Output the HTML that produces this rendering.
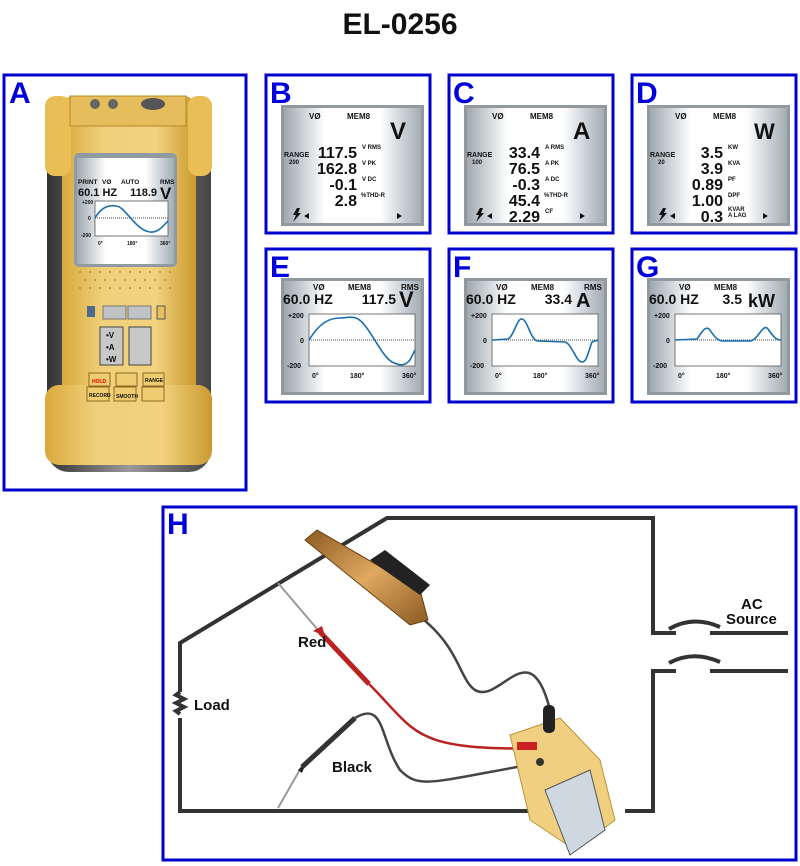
<!DOCTYPE html>
<html><head><meta charset="utf-8"><style>
html,body{margin:0;padding:0;background:#fff;}
svg{display:block;font-family:"Liberation Sans",Arial,sans-serif;}
.lab{fill:#0000dd;font-weight:bold;font-size:30px;}
.b{font-weight:bold;fill:#111;}
</style></head><body>
<svg width="800" height="866" viewBox="0 0 800 866" xmlns="http://www.w3.org/2000/svg">
<defs>
<linearGradient id="scr" x1="0" x2="1" y1="0" y2="0">
<stop offset="0" stop-color="#9fa9b0"/><stop offset="0.2" stop-color="#dfe3e6"/><stop offset="0.3" stop-color="#ffffff"/><stop offset="0.7" stop-color="#ffffff"/><stop offset="0.82" stop-color="#d9dee2"/><stop offset="1" stop-color="#a3adb4"/>
</linearGradient>
<linearGradient id="body" x1="0" x2="1"><stop offset="0" stop-color="#d9a93c"/><stop offset="0.3" stop-color="#f0cf7a"/><stop offset="0.7" stop-color="#f2d27e"/><stop offset="1" stop-color="#c99a30"/></linearGradient>
<linearGradient id="side" x1="0" x2="1"><stop offset="0" stop-color="#333"/><stop offset="0.5" stop-color="#999"/><stop offset="1" stop-color="#444"/></linearGradient>
<linearGradient id="clip" x1="0" x2="1" y1="0" y2="1"><stop offset="0" stop-color="#8a5a22"/><stop offset="0.5" stop-color="#e0a860"/><stop offset="1" stop-color="#8a5a22"/></linearGradient>
</defs>
<text x="400" y="34" text-anchor="middle" class="b" font-size="30">EL-0256</text>

<g fill="none" stroke="#0000cc" stroke-width="3">
<rect x="4" y="75" width="242" height="415"/>
<rect x="266" y="75" width="164" height="158"/>
<rect x="449" y="75" width="164" height="158"/>
<rect x="632" y="75" width="164" height="158"/>
<rect x="266" y="249" width="164" height="153"/>
<rect x="449" y="249" width="164" height="153"/>
<rect x="632" y="249" width="164" height="153"/>
<rect x="163" y="507" width="633" height="353"/>
</g>
<text x="9" y="103" class="lab">A</text>
<text x="270" y="103" class="lab">B</text>
<text x="453" y="103" class="lab">C</text>
<text x="636" y="103" class="lab">D</text>
<text x="270" y="277" class="lab">E</text>
<text x="453" y="277" class="lab">F</text>
<text x="636" y="277" class="lab">G</text>
<text x="167" y="534" class="lab">H</text>

<!-- Meter A -->
<rect x="47" y="112" width="164" height="360" rx="22" fill="url(#side)"/>
<rect x="62" y="96" width="134" height="340" rx="12" fill="url(#body)"/>
<rect x="45" y="96" width="26" height="80" rx="10" fill="#e9be55"/>
<rect x="188" y="96" width="24" height="80" rx="10" fill="#e9be55"/>
<rect x="45" y="385" width="167" height="80" rx="14" fill="url(#body)"/>
<rect x="70" y="96" width="116" height="30" fill="#e5bd5c" stroke="#b78a2a"/>
<circle cx="95" cy="104" r="5" fill="#666"/><circle cx="113" cy="104" r="5" fill="#666"/><ellipse cx="153" cy="104" rx="12" ry="6" fill="#555"/>
<rect x="74" y="153" width="103" height="114" rx="5" fill="#8f9aa2"/>
<rect x="77" y="158" width="97" height="106" fill="url(#scr)"/>
<text x="78" y="184" font-size="6.5" class="b">PRINT</text><text x="102" y="184" font-size="6.5" class="b">VØ</text><text x="121" y="184" font-size="6.5" class="b">AUTO</text><text x="160" y="184" font-size="6.5" class="b">RMS</text>
<text x="78" y="196" font-size="11" class="b">60.1 HZ</text><text x="157" y="196" font-size="11" class="b" text-anchor="end">118.9</text><text x="160" y="199" font-size="17" class="b">V</text>
<rect x="95" y="201" width="73" height="35" fill="#fff" stroke="#555" stroke-width="0.8"/>
<line x1="95" y1="218" x2="168" y2="218" stroke="#444" stroke-dasharray="1,1"/>
<path d="M95,218 C102,206 110,205 116,206 C125,206 135,230 150,232 C158,233 163,226 168,221" fill="none" stroke="#1a6fb0" stroke-width="1.6"/>
<text x="82" y="204" font-size="5" class="b">+200</text><text x="88" y="220" font-size="5" class="b">0</text><text x="81" y="237" font-size="5" class="b">-200</text>
<text x="98" y="245" font-size="5" class="b">0°</text><text x="127" y="245" font-size="5" class="b">180°</text><text x="160" y="245" font-size="5" class="b">360°</text>
<g fill="#b48a3a">
<circle cx="80" cy="272" r="1"/><circle cx="90" cy="272" r="1"/><circle cx="100" cy="272" r="1"/><circle cx="110" cy="272" r="1"/><circle cx="120" cy="272" r="1"/><circle cx="130" cy="272" r="1"/><circle cx="140" cy="272" r="1"/><circle cx="150" cy="272" r="1"/><circle cx="160" cy="272" r="1"/><circle cx="170" cy="272" r="1"/>
<circle cx="85" cy="280" r="1"/><circle cx="95" cy="280" r="1"/><circle cx="105" cy="280" r="1"/><circle cx="115" cy="280" r="1"/><circle cx="125" cy="280" r="1"/><circle cx="135" cy="280" r="1"/><circle cx="145" cy="280" r="1"/><circle cx="155" cy="280" r="1"/><circle cx="165" cy="280" r="1"/>
<circle cx="80" cy="288" r="1"/><circle cx="90" cy="288" r="1"/><circle cx="100" cy="288" r="1"/><circle cx="110" cy="288" r="1"/><circle cx="120" cy="288" r="1"/><circle cx="130" cy="288" r="1"/><circle cx="140" cy="288" r="1"/><circle cx="150" cy="288" r="1"/><circle cx="160" cy="288" r="1"/><circle cx="170" cy="288" r="1"/>
</g>
<rect x="87" y="306" width="8" height="11" fill="#4a6a90"/>
<rect x="103" y="306" width="23" height="13" fill="#bfc3c6" stroke="#777"/><rect x="128" y="306" width="23" height="13" fill="#bfc3c6" stroke="#777"/>
<rect x="157" y="306" width="8" height="13" fill="#e8c060" stroke="#555"/>
<rect x="100" y="327" width="23" height="38" fill="#c8c8c8" stroke="#444"/>
<text x="106" y="338" font-size="8" class="b">•V</text><text x="106" y="350" font-size="8" class="b">•A</text><text x="106" y="362" font-size="8" class="b">•W</text>
<rect x="129" y="327" width="22" height="38" fill="#c8c8c8" stroke="#444"/>
<rect x="89" y="373" width="21" height="13" fill="#f0cc70" stroke="#8a6a20"/><text x="92" y="383" font-size="5" fill="#d00" font-weight="bold">HOLD</text>
<rect x="116" y="373" width="21" height="13" fill="#f0cc70" stroke="#8a6a20"/>
<rect x="143" y="373" width="21" height="13" fill="#f0cc70" stroke="#8a6a20"/><text x="145" y="382" font-size="5" class="b">RANGE</text>
<rect x="87" y="387" width="22" height="14" fill="#f0cc70" stroke="#8a6a20"/><text x="89" y="397" font-size="5" class="b">RECORD</text>
<rect x="114" y="387" width="22" height="14" fill="#f0cc70" stroke="#8a6a20"/><text x="116" y="398" font-size="5" class="b">SMOOTH</text>
<rect x="142" y="387" width="22" height="14" fill="#f0cc70" stroke="#8a6a20"/>

<!-- B C D screens -->
<rect x="281" y="105" width="143" height="121" fill="#8f999f"/><rect x="284" y="108" width="137" height="115" fill="url(#scr)"/>
<rect x="464" y="105" width="143" height="121" fill="#8f999f"/><rect x="467" y="108" width="137" height="115" fill="url(#scr)"/>
<rect x="647" y="105" width="143" height="121" fill="#8f999f"/><rect x="650" y="108" width="137" height="115" fill="url(#scr)"/>
<g class="b" font-size="8">
<text x="309" y="119">VØ</text><text x="347" y="119">MEM8</text>
<text x="492" y="119">VØ</text><text x="530" y="119">MEM8</text>
<text x="675" y="119">VØ</text><text x="713" y="119">MEM8</text>
<text x="284" y="157" font-size="7">RANGE</text><text x="289" y="164" font-size="6">200</text>
<text x="467" y="157" font-size="7">RANGE</text><text x="472" y="164" font-size="6">100</text>
<text x="650" y="157" font-size="7">RANGE</text><text x="658" y="164" font-size="6">20</text>
</g>
<text x="390" y="139" font-size="24" class="b">V</text>
<text x="573" y="139" font-size="24" class="b">A</text>
<text x="754" y="139" font-size="22" class="b">W</text>
<g class="b" font-size="16" text-anchor="end">
<text x="357" y="158">117.5</text><text x="357" y="174">162.8</text><text x="357" y="190">-0.1</text><text x="357" y="206">2.8</text>
<text x="540" y="158">33.4</text><text x="540" y="174">76.5</text><text x="540" y="190">-0.3</text><text x="540" y="206">45.4</text><text x="540" y="222">2.29</text>
<text x="723" y="158">3.5</text><text x="723" y="174">3.9</text><text x="723" y="190">0.89</text><text x="723" y="206">1.00</text><text x="723" y="222">0.3</text>
</g>
<g class="b" font-size="6">
<text x="362" y="149">V  RMS</text><text x="362" y="165">V  PK</text><text x="362" y="181">V  DC</text><text x="361" y="197">%THD-R</text>
<text x="545" y="149">A  RMS</text><text x="545" y="165">A  PK</text><text x="545" y="181">A  DC</text><text x="544" y="197">%THD-R</text><text x="545" y="213">CF</text>
<text x="728" y="149">KW</text><text x="728" y="165">KVA</text><text x="728" y="181">PF</text><text x="728" y="197">DPF</text><text x="728" y="211">KVAR</text><text x="728" y="217">A LAG</text>
</g>
<g fill="#111">
<path transform="translate(292,208)" d="M5,0 L1,7 L4,7 L1,14 L9,5 L6,5 L8,0Z"/><path d="M304,216 l5,-3 v6z M397,213 l5,3 l-5,3z"/>
<path transform="translate(475,208)" d="M5,0 L1,7 L4,7 L1,14 L9,5 L6,5 L8,0Z"/><path d="M487,216 l5,-3 v6z M580,213 l5,3 l-5,3z"/>
<path transform="translate(658,208)" d="M5,0 L1,7 L4,7 L1,14 L9,5 L6,5 L8,0Z"/><path d="M670,216 l5,-3 v6z M763,213 l5,3 l-5,3z"/>
<path transform="translate(292,379)" d="M5,0 L1,7 L4,7 L1,14 L9,5 L6,5 L8,0Z"/>
<path transform="translate(475,379)" d="M5,0 L1,7 L4,7 L1,14 L9,5 L6,5 L8,0Z"/>
<path transform="translate(658,379)" d="M5,0 L1,7 L4,7 L1,14 L9,5 L6,5 L8,0Z"/>
</g>

<!-- E F G -->
<rect x="281" y="278" width="143" height="117" fill="#8f999f"/><rect x="284" y="281" width="137" height="111" fill="url(#scr)"/>
<rect x="464" y="278" width="143" height="117" fill="#8f999f"/><rect x="467" y="281" width="137" height="111" fill="url(#scr)"/>
<rect x="647" y="278" width="143" height="117" fill="#8f999f"/><rect x="650" y="281" width="137" height="111" fill="url(#scr)"/>
<g class="b" font-size="8">
<text x="313" y="290">VØ</text><text x="348" y="290">MEM8</text><text x="401" y="290">RMS</text>
<text x="496" y="290">VØ</text><text x="531" y="290">MEM8</text><text x="584" y="290">RMS</text>
<text x="679" y="290">VØ</text><text x="714" y="290">MEM8</text>
</g>
<g class="b" font-size="14">
<text x="283" y="304">60.0 HZ</text><text x="396" y="304" text-anchor="end">117.5</text>
<text x="466" y="304">60.0 HZ</text><text x="572" y="304" text-anchor="end">33.4</text>
<text x="649" y="304">60.0 HZ</text><text x="742" y="304" text-anchor="end">3.5</text>
</g>
<text x="399" y="307" font-size="22" class="b">V</text>
<text x="576" y="307" font-size="20" class="b">A</text>
<text x="748" y="307" font-size="18" class="b">kW</text>
<g fill="#fff" stroke="#555" stroke-width="0.8">
<rect x="309" y="314" width="106" height="52"/><rect x="492" y="314" width="106" height="52"/><rect x="675" y="314" width="106" height="52"/>
</g>
<g stroke="#444" stroke-dasharray="1,1"><line x1="309" y1="340" x2="415" y2="340"/><line x1="492" y1="340" x2="598" y2="340"/><line x1="675" y1="340" x2="781" y2="340"/></g>
<g fill="none" stroke="#1a6fb0" stroke-width="1.6">
<path d="M309,340 C320,322 330,318 340,318 C346,318 350,316 356,318 C368,322 380,355 392,362 C400,366 405,366 410,360 L415,350"/>
<path d="M492,340 L508,339 C514,336 517,318 522,319 C528,320 530,340 538,341 L565,342 C572,344 576,362 582,362 C587,362 588,352 592,342 L598,340"/>
<path d="M675,340 L697,339 C702,332 705,326 709,329 C713,334 716,340 722,341 L750,341 C758,340 762,325 767,328 C771,332 774,340 781,340"/>
</g>
<g class="b" font-size="7">
<text x="288" y="318">+200</text><text x="300" y="343">0</text><text x="287" y="368">-200</text><text x="312" y="378">0°</text><text x="350" y="378">180°</text><text x="402" y="378">360°</text>
<text x="471" y="318">+200</text><text x="483" y="343">0</text><text x="470" y="368">-200</text><text x="495" y="378">0°</text><text x="533" y="378">180°</text><text x="585" y="378">360°</text>
<text x="654" y="318">+200</text><text x="666" y="343">0</text><text x="653" y="368">-200</text><text x="678" y="378">0°</text><text x="716" y="378">180°</text><text x="768" y="378">360°</text>
</g>

<!-- Panel H circuit -->
<g fill="none" stroke="#333" stroke-width="4" stroke-linejoin="miter">
<polyline points="180,692 180,643 387,518 653,518 653,633 676,633"/>
<line x1="710" y1="633" x2="788" y2="633"/>
<polyline points="676,671 653,671 653,811 625,811"/>
<line x1="710" y1="671" x2="788" y2="671"/>
<polyline points="180,718 180,811 530,811"/>
<path d="M180,692 l-4,3 l8,4 l-8,4 l8,4 l-8,4 l4,3"/>
<path d="M669,629 Q693,615 720,627"/>
<path d="M669,663 Q693,650 720,662"/>
</g>
<line x1="278" y1="583" x2="318" y2="630" stroke="#999" stroke-width="2"/>
<path d="M313,631 L322,626 L325,636 Z" fill="#b22"/>
<path d="M320,632 L369,684" stroke="#b22" stroke-width="5"/>
<path d="M369,684 C420,735 410,752 560,748" fill="none" stroke="#b22" stroke-width="2.5"/>
<line x1="278" y1="808" x2="302" y2="766" stroke="#999" stroke-width="2"/>
<path d="M298,770 L306,763 L302,773 Z" fill="#222"/>
<path d="M302,767 L355,718" stroke="#333" stroke-width="5"/>
<path d="M355,718 C385,700 380,740 400,770 C420,790 430,782 545,762" fill="none" stroke="#444" stroke-width="2.5"/>
<path d="M424,620 C460,650 460,680 475,690 C500,705 530,630 550,710" fill="none" stroke="#444" stroke-width="2.5"/>
<path d="M305,540 L317,530 L420,590 L428,620 L410,625 Z" fill="url(#clip)" stroke="#6a4010"/>
<path d="M370,560 L385,550 L430,585 L420,595 Z" fill="#222"/>
<path d="M510,735 L560,718 L600,760 L615,820 L575,850 L530,820 Z" fill="#f0d080" stroke="#b8923a"/>
<path d="M545,790 L590,770 L605,830 L570,855 Z" fill="#cfd8e0" stroke="#555"/>
<rect x="543" y="705" width="12" height="28" rx="5" fill="#222"/>
<rect x="517" y="742" width="20" height="8" fill="#c22"/>
<circle cx="540" cy="762" r="4" fill="#333"/>
<g class="b" font-size="15">
<text x="298" y="647">Red</text>
<text x="194" y="710">Load</text>
<text x="332" y="772">Black</text>
<text x="741" y="609">AC</text>
<text x="726" y="624">Source</text>
</g>
</svg>
</body></html>
